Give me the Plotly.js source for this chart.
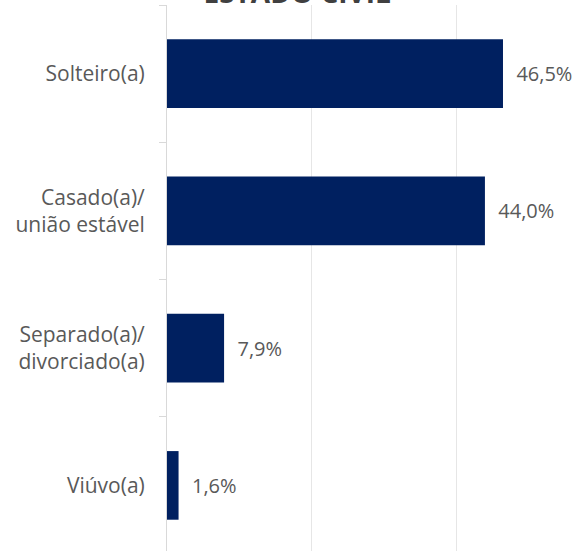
<!DOCTYPE html>
<html>
<head>
<meta charset="utf-8">
<script src="https://cdn.plot.ly/plotly-3.0.1.min.js"></script>
<style>html,body{margin:0;padding:0;background:#fff;}#chart{width:585px;height:551px;}</style>
</head>
<body>
<div id="chart"></div>
<script>
const categories = ["Solteiro(a)", "Casado(a)/<br>união estável", "Separado(a)/<br>divorciado(a)", "Viúvo(a)"];
const values = [46.5, 44.0, 7.9, 1.6];
const chartTitle = "ESTADO CIVIL";

const trace = {
  type: "bar",
  orientation: "h",
  y: categories,
  x: values,
  width: 0.5,
  marker: {color: "#002060"},
  texttemplate: "\u00a0\u00a0%{x:.1f}%",
  textposition: "outside",
  cliponaxis: false,
  textfont: {family: "Open Sans, sans-serif", size: 20, color: "#595959"},
  hoverinfo: "none"
};

const layout = {
  width: 585,
  height: 551,
  separators: ",.",
  margin: {l: 167, r: 0, t: 5, b: 0, pad: 0},
  paper_bgcolor: "#ffffff",
  plot_bgcolor: "#ffffff",
  showlegend: false,
  title: {
    text: "<b>" + chartTitle + "</b>",
    font: {family: "Open Sans, sans-serif", size: 28, color: "#404040"},
    x: 0.508,
    xanchor: "center",
    y: 1.016,
    yanchor: "bottom",
    yref: "container"
  },
  xaxis: {
    range: [0, 57.85],
    tickvals: [0, 20, 40],
    showticklabels: false,
    showgrid: true,
    gridcolor: "#e6e6e6",
    gridwidth: 1,
    zeroline: false,
    showline: false,
    fixedrange: true
  },
  yaxis: {
    type: "category",
    range: [3.478, -0.5],
    showline: true,
    linecolor: "#d9d9d9",
    linewidth: 1,
    ticks: "outside",
    tickson: "boundaries",
    ticklen: 7,
    tickcolor: "#d9d9d9",
    ticklabelstandoff: 17,
    tickfont: {family: "Open Sans, sans-serif", size: 21, color: "#595959"},
    showgrid: false,
    zeroline: false,
    fixedrange: true
  }
};

Plotly.newPlot("chart", [trace], layout, {displayModeBar: false, staticPlot: true});
</script>
</body>
</html>
